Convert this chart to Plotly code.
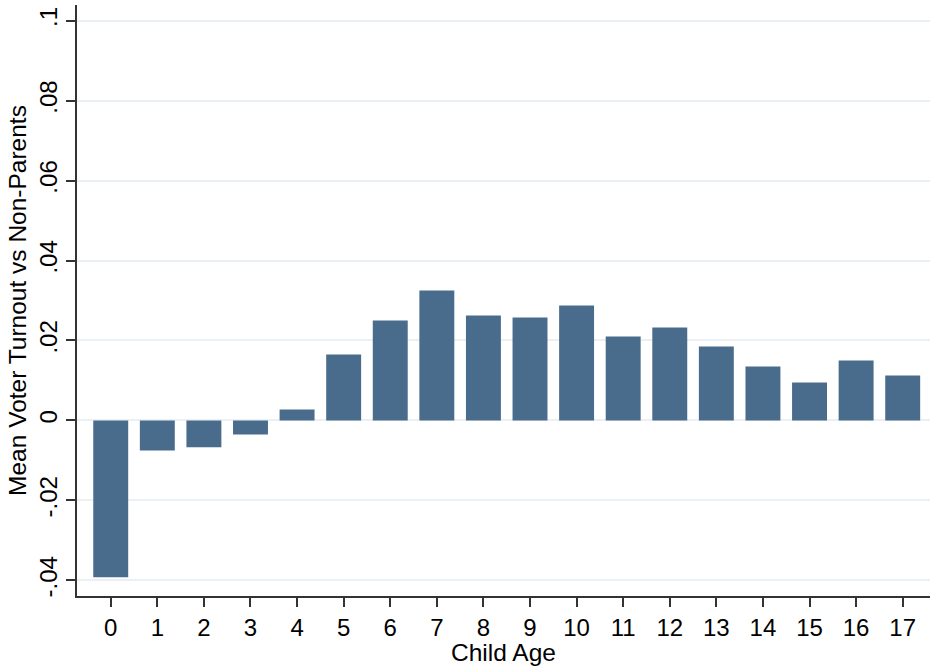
import plotly.graph_objects as go

ages = list(range(18))
age_labels = [str(a) for a in ages]
turnout_diff = [-0.0392, -0.0075, -0.0067, -0.0035, 0.00275, 0.0165, 0.025, 0.0325, 0.02625,
                0.02575, 0.02875, 0.021, 0.02325, 0.0185, 0.0135, 0.0095, 0.015, 0.01125]
y_ticks = [-0.04, -0.02, 0, 0.02, 0.04, 0.06, 0.08, 0.1]
y_tick_labels = ["-.04", "-.02", "0", ".02", ".04", ".06", ".08", ".1"]

FONT = "Liberation Sans, Arial, sans-serif"

fig = go.Figure(go.Bar(
    x=ages, y=turnout_diff, marker=dict(color="#4A6C8C", line=dict(width=0)),
    width=0.75,
))

fig.update_layout(
    width=931, height=666,
    margin=dict(l=77, r=1, t=5, b=70),
    paper_bgcolor="white", plot_bgcolor="white",
    font=dict(family=FONT, size=24, color="#000000"),
    showlegend=False,
)
fig.update_xaxes(
    range=[-0.724, 17.586], tickmode="array", tickvals=ages, ticktext=age_labels,
    ticks="outside", ticklen=9, tickwidth=1.5, tickcolor="#333333",
    showline=True, linecolor="#333333", linewidth=1.5, showgrid=False, zeroline=False,
    title=dict(text="Child Age", font=dict(size=24.5), standoff=1),
    tickfont=dict(size=24), automargin=False,
)
fig.update_yaxes(
    range=[-0.0439, 0.1039], tickmode="array", tickvals=y_ticks, ticktext=y_tick_labels,
    ticks="outside", ticklen=9, tickwidth=1.5, tickcolor="#333333", tickangle=-90,
    showline=True, linecolor="#333333", linewidth=1.5,
    showgrid=True, gridcolor="#EAF0F3", gridwidth=2, zeroline=False,
    title=dict(text="Mean Voter Turnout vs Non-Parents", font=dict(size=24.5), standoff=1),
    tickfont=dict(size=24), automargin=False,
)

fig.write_html(
    "out.html",
    config={"displayModeBar": False},
    post_script="document.body.style.margin='0';document.body.style.overflow='hidden';",
)
